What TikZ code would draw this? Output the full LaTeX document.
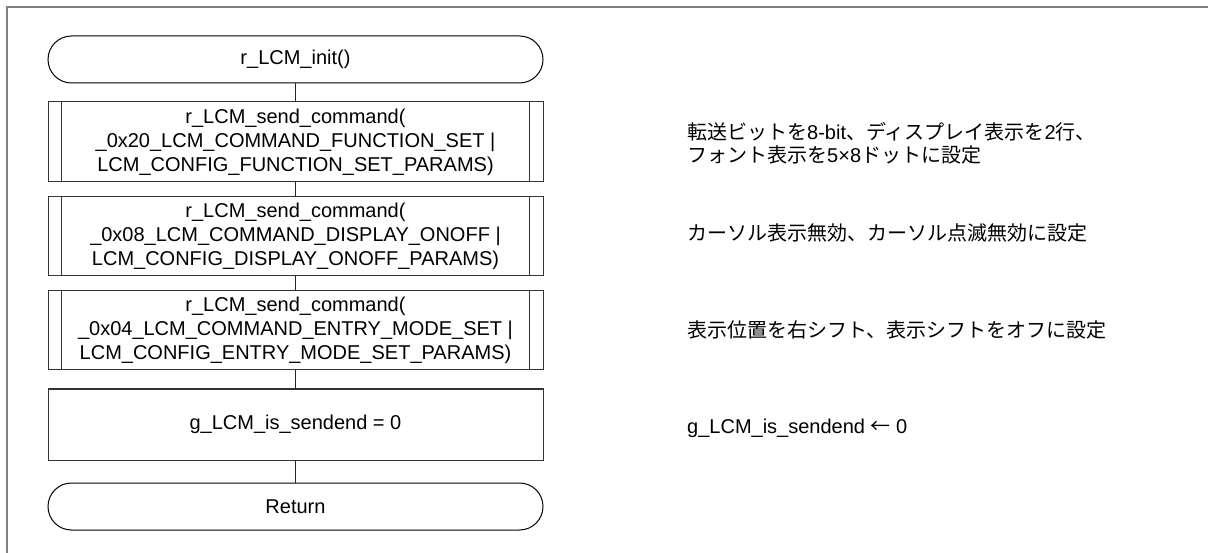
\documentclass[tikz,border=0pt]{standalone}
\usepackage{fontspec}
\setmainfont{Liberation Sans}
\newfontfamily\jp{Noto Sans CJK JP}
\begin{document}
\begin{tikzpicture}[x=1pt,y=-1pt,
  every node/.style={font=\fontsize{20}{24}\selectfont},
  term/.style={draw=black,line width=1pt,rounded corners=23.5pt,minimum width=495pt,minimum height=47pt,inner sep=0pt,align=center},
  procbox/.style={draw=black!80,line width=1pt,minimum width=495pt,inner sep=0pt,align=center},
  note/.style={anchor=west,inner sep=0pt,align=left,font=\fontsize{20}{23}\selectfont},
  link/.style={draw=black!85,line width=1pt}]
\useasboundingbox (0,0) rectangle (1208,553);
\draw[gray,line width=1.3pt] (1208,7) -- (7,7) -- (7,553);
\node[term] (start) at (295.5,59.5) {r\_LCM\_init()};
\node[procbox,minimum height=80pt] (b1) at (295.5,142) {r\_LCM\_send\_command(\\\_0x20\_LCM\_COMMAND\_FUNCTION\_SET |\\LCM\_CONFIG\_FUNCTION\_SET\_PARAMS)};
\node[procbox,minimum height=79pt] (b2) at (295.5,236.5) {r\_LCM\_send\_command(\\\_0x08\_LCM\_COMMAND\_DISPLAY\_ONOFF |\\LCM\_CONFIG\_DISPLAY\_ONOFF\_PARAMS)};
\node[procbox,minimum height=79pt] (b3) at (295.5,330.5) {r\_LCM\_send\_command(\\\_0x04\_LCM\_COMMAND\_ENTRY\_MODE\_SET |\\LCM\_CONFIG\_ENTRY\_MODE\_SET\_PARAMS)};
\node[procbox,minimum height=71pt] (b4) at (295.5,424.5) {g\_LCM\_is\_sendend = 0};
\node[term] (ret) at (295.5,506.5) {Return};
\foreach \b in {b1,b2,b3}{
  \draw[black!80,line width=1pt] ([xshift=14pt]\b.north west) -- ([xshift=14pt]\b.south west);
  \draw[black!80,line width=1pt] ([xshift=-14pt]\b.north east) -- ([xshift=-14pt]\b.south east);
}
\draw[link] (start) -- (b1);
\draw[link] (b1) -- (b2);
\draw[link] (b2) -- (b3);
\draw[link] (b3) -- (b4);
\draw[link] (b4) -- (ret);
\node[note] (n1) at (687,143.5) {{\jp 転送ビットを}8-bit{\jp 、ディスプレイ表示を}2{\jp 行、}\\{\jp フォント表示を}5×8{\jp ドットに設定}};
\node[note] (n2) at (687,233) {\jp カーソル表示無効、カーソル点滅無効に設定};
\node[note] (n3) at (687,330) {\jp 表示位置を右シフト、表示シフトをオフに設定};
\node[note] (n4) at (687,428) {g\_LCM\_is\_sendend {\jp ←} 0};
\end{tikzpicture}
\end{document}
